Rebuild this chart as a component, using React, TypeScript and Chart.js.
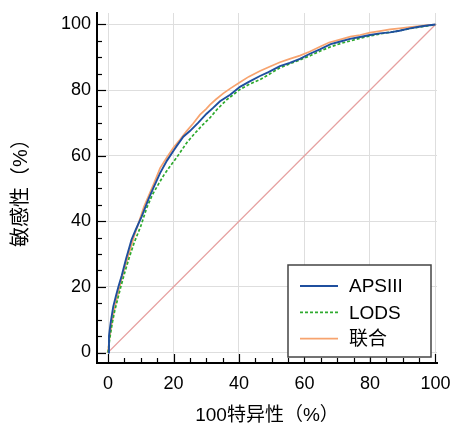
import React, { useEffect, useRef } from "react";
import { Chart, registerables } from "chart.js";

Chart.register(...registerables);

// 100 - specificity (%) and sensitivity (%) for each model
const apsX = [0, 0.3, 0.8, 1.6, 2.5, 3.2, 4.2, 5.5, 7.2, 8.5, 10.3, 12.3, 14, 15.9, 18, 20, 21, 23, 25, 27.5, 30.1, 32, 34.2, 37.3, 40.3, 43, 46.4, 49, 52.5, 55.5, 58.6, 61.5, 64.7, 68, 71, 73.9, 77, 80, 83, 86.1, 89, 92.2, 95, 97.5, 100];
const apsY = [0, 5, 9, 14, 17.5, 20.1, 23.5, 28.5, 34.4, 37.5, 41.5, 46.6, 50.5, 54.7, 58.5, 61.5, 63, 65.8, 67.5, 70, 72.8, 74.5, 76.6, 78.6, 81, 82.5, 84.3, 85.5, 87.3, 88.3, 89.5, 91, 92.4, 94, 94.8, 95.6, 96.2, 96.8, 97.3, 97.6, 98.1, 98.8, 99.3, 99.7, 100];

const lodsX = [0, 0.5, 1.2, 2, 3, 3.9, 5, 6.5, 8, 10, 11.8, 13.5, 15.5, 17, 18.9, 21, 24, 26.5, 29, 31.1, 33.2, 36.2, 38.5, 40.3, 43, 46.4, 49.5, 52.5, 55.5, 58.6, 62, 65, 68, 71, 74, 77, 80, 83, 86, 89, 92, 95, 97.5, 100];
const lodsY = [0, 4, 8.5, 12.5, 16.5, 20, 24, 29, 33.5, 38.5, 44, 48, 51.5, 54, 56.7, 59.5, 63.9, 66.8, 69.5, 71.5, 74, 77, 78.8, 80.2, 81.7, 83.2, 85, 86.8, 88, 89.2, 90.6, 92, 93.2, 94.2, 95, 95.8, 96.5, 97.1, 97.6, 98.1, 98.7, 99.2, 99.6, 100];

const combX = [0, 0.4, 1, 1.8, 2.8, 3.8, 5, 6.5, 8, 9.5, 11, 12.5, 14, 15.9, 18, 20, 22, 24, 26, 28.1, 30, 31.1, 33, 35.2, 37.5, 40.3, 43, 46.4, 49.5, 52.5, 55.5, 58.6, 61.5, 64.7, 67.5, 70.8, 74, 77, 80, 83, 86.1, 89, 92.2, 95, 97.5, 100];
const combY = [0, 4, 8, 12.5, 17, 21, 25.5, 30.5, 35.5, 40, 44.5, 48, 51.5, 56.2, 59.5, 62.5, 64.9, 67.5, 69.8, 72.5, 74.3, 75.5, 77.2, 79, 80.6, 82.4, 84.1, 85.8, 87.2, 88.5, 89.5, 90.5, 91.7, 93.2, 94.5, 95.4, 96.3, 96.8, 97.5, 98, 98.5, 98.8, 99.2, 99.5, 99.8, 100];

const refX = [0, 100];
const refY = [0, 100];

const seriesNames = ["APSIII", "LODS", "联合"];
const tickValues = [0, 5, 10, 15, 20, 25, 30, 35, 40, 45, 50, 55, 60, 65, 70, 75, 80, 85, 90, 95, 100];
const xTitle = "100特异性（%）";
const yTitle = "敏感性（%）";

const FONT = "'Liberation Sans', Arial, 'Noto Sans CJK SC', sans-serif";

const toPts = (xs: number[], ys: number[]) => xs.map((x, i) => ({ x, y: ys[i] }));

const tickPlugin = {
  id: "innerTicks",
  afterDraw(chart: any) {
    const { ctx, chartArea, scales } = chart;
    ctx.save();
    ctx.strokeStyle = "#000";
    ctx.lineWidth = 1.2;
    tickValues.forEach((v) => {
      const len = v % 20 === 0 ? 9 : 5;
      const px = Math.round(scales.x.getPixelForValue(v)) + 0.5;
      ctx.beginPath();
      ctx.moveTo(px, chartArea.bottom);
      ctx.lineTo(px, chartArea.bottom - len);
      ctx.stroke();
      const py = Math.round(scales.y.getPixelForValue(v)) + 0.5;
      ctx.beginPath();
      ctx.moveTo(chartArea.left, py);
      ctx.lineTo(chartArea.left + len, py);
      ctx.stroke();
    });
    ctx.restore();
  },
};

const legendPlugin = {
  id: "boxLegend",
  afterDraw(chart: any) {
    const { ctx } = chart;
    const bx = 288, by = 265, bw = 143, bh = 92;
    ctx.save();
    ctx.fillStyle = "#fff";
    ctx.fillRect(bx, by, bw, bh);
    ctx.strokeStyle = "#444";
    ctx.lineWidth = 1.5;
    ctx.strokeRect(bx, by, bw, bh);
    ctx.font = `19px ${FONT}`;
    ctx.textBaseline = "middle";
    ctx.textAlign = "left";
    for (let i = 0; i < 3; i++) {
      const ds = chart.data.datasets[i];
      const y = by + 21 + i * 26.3;
      ctx.strokeStyle = ds.borderColor;
      ctx.lineWidth = ds.borderWidth;
      ctx.setLineDash(ds.borderDash || []);
      ctx.beginPath();
      ctx.moveTo(bx + 12, y);
      ctx.lineTo(bx + 50, y);
      ctx.stroke();
      ctx.setLineDash([]);
      ctx.fillStyle = "#000";
      ctx.fillText(seriesNames[i], bx + 61, y + 1);
    }
    ctx.restore();
  },
};

export default function App() {
  const ref = useRef<HTMLCanvasElement>(null);
  useEffect(() => {
    if (!ref.current) return;
    const gridColor = (c: any) => (c.tick && c.tick.value % 20 === 0 ? "#dedede" : "rgba(0,0,0,0)");
    const chart = new Chart(ref.current, {
      type: "scatter",
      data: {
        datasets: [
          { label: seriesNames[0], data: toPts(apsX, apsY), showLine: true, borderColor: "#1f4f9e", borderWidth: 1.9, pointRadius: 0, fill: false },
          { label: seriesNames[1], data: toPts(lodsX, lodsY), showLine: true, borderColor: "#2eaa2e", borderWidth: 1.7, borderDash: [3, 2], pointRadius: 0, fill: false },
          { label: seriesNames[2], data: toPts(combX, combY), showLine: true, borderColor: "#f7a36e", borderWidth: 1.7, pointRadius: 0, fill: false },
          { label: "ref", data: toPts(refX, refY), showLine: true, borderColor: "#e6a0a0", borderWidth: 1.2, pointRadius: 0, fill: false },
        ],
      },
      options: {
        responsive: false,
        animation: false,
        devicePixelRatio: 1,
        layout: { padding: { top: 13, right: 15, left: 0, bottom: 0 } },
        plugins: { legend: { display: false }, tooltip: { enabled: false } },
        scales: {
          x: {
            type: "linear",
            min: -3.36,
            max: 100.46,
            afterBuildTicks: (s: any) => { s.ticks = tickValues.map((v) => ({ value: v })); },
            afterFit: (s: any) => { s.height = 65; s.paddingLeft = 0; s.paddingRight = 0; s.paddingTop = 0; s.paddingBottom = 0; },
            ticks: { callback: (v: any) => (Number(v) % 20 === 0 ? String(v) : ""), font: { size: 18, family: FONT }, color: "#000", padding: 10, maxRotation: 0, autoSkip: false },
            grid: { color: gridColor, drawTicks: false, lineWidth: 1 },
            border: { display: true, color: "#000", width: 2 },
            title: { display: true, text: xTitle, font: { size: 19, family: FONT }, color: "#000", padding: { top: 0, bottom: 1 } },
          },
          y: {
            type: "linear",
            min: -3.2,
            max: 103.5,
            afterBuildTicks: (s: any) => { s.ticks = tickValues.map((v) => ({ value: v })); },
            afterFit: (s: any) => { s.width = 97; s.paddingLeft = 0; s.paddingRight = 0; s.paddingTop = 0; s.paddingBottom = 0; },
            ticks: { callback: (v: any) => (Number(v) % 20 === 0 ? String(v) : ""), font: { size: 18, family: FONT }, color: "#000", padding: 6, autoSkip: false },
            grid: { color: gridColor, drawTicks: false, lineWidth: 1 },
            border: { display: true, color: "#000", width: 2 },
            title: { display: true, text: yTitle, font: { size: 20, family: FONT }, color: "#000", padding: { top: 9, bottom: 0 } },
          },
        },
      },
      plugins: [tickPlugin, legendPlugin],
    } as any);
    return () => chart.destroy();
  }, []);
  return (
    <div style={{ position: "fixed", left: 0, top: 0, width: 452, height: 428, background: "#fff" }}>
      <canvas ref={ref} width={452} height={428} style={{ display: "block", width: 452, height: 428 }} />
    </div>
  );
}
